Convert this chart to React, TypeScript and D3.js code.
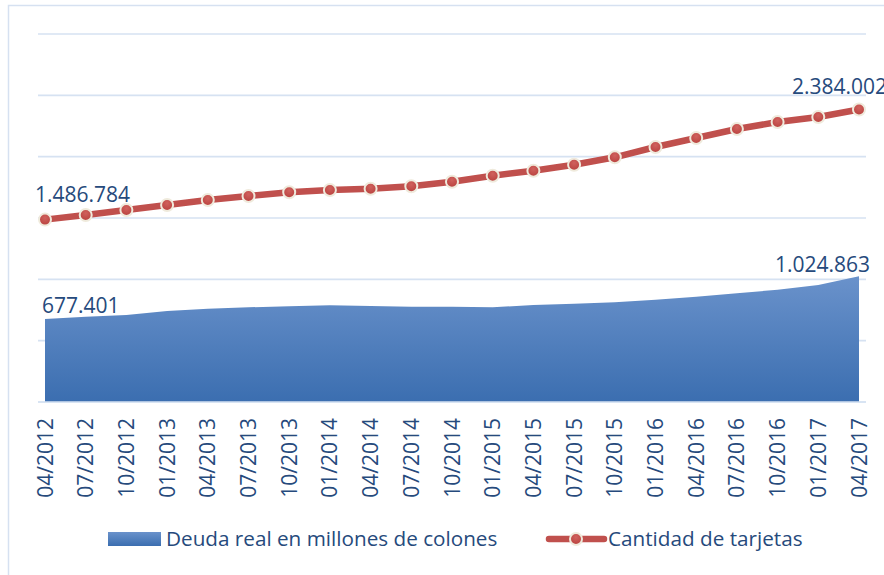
import React from "react";
import * as d3 from "d3";

// fechas del eje x
const periods = [
  "04/2012", "07/2012", "10/2012", "01/2013", "04/2013", "07/2013", "10/2013",
  "01/2014", "04/2014", "07/2014", "10/2014", "01/2015", "04/2015", "07/2015",
  "10/2015", "01/2016", "04/2016", "07/2016", "10/2016", "01/2017", "04/2017",
];

// deuda real en millones de colones (area)
const deuda = [
  677401, 695400, 709200, 741800, 760600, 772000, 780100, 788300, 782600,
  776900, 776900, 772000, 790700, 801300, 812700, 834000, 858400, 886100,
  915500, 953800, 1024863,
];

// cantidad de tarjetas (linea)
const tarjetas = [
  1486784, 1524400, 1565200, 1606000, 1646700, 1679300, 1709500, 1728200,
  1738800, 1758400, 1795900, 1844800, 1885600, 1934500, 1994800, 2078800,
  2152100, 2225500, 2282600, 2323300, 2384002,
];

const gridTicks = [0, 500000, 1000000, 1500000, 2000000, 2500000, 3000000];

const fmt = (v: number) => d3.format(",")(v).replace(/,/g, ".");

const W = 884;
const H = 575;
const FONT = "'Open Sans', sans-serif";
const TEXT = "#264a7c";
const RED = "#c0504d";

export default function App() {
  const x = d3.scalePoint<string>().domain(periods).range([45, 859]);
  const y = d3.scaleLinear().domain([0, 3000000]).range([402, 34]);

  const area = d3
    .area<number>()
    .x((_, i) => x(periods[i])!)
    .y0(y(0))
    .y1((d) => y(d));

  const line = d3
    .line<number>()
    .x((_, i) => x(periods[i])!)
    .y((d) => y(d));

  const first = 0;
  const last = periods.length - 1;

  return (
    <svg
      width={W}
      height={H}
      style={{ position: "absolute", left: 0, top: 0, background: "#fff" }}
      fontFamily={FONT}
    >
      <defs>
        <linearGradient id="areaGrad" x1="0" y1="0" x2="0" y2="1">
          <stop offset="0%" stopColor="#6a92cb" />
          <stop offset="100%" stopColor="#3b6eb0" />
        </linearGradient>
        <radialGradient id="dotGrad" cx="50%" cy="35%" r="65%">
          <stop offset="0%" stopColor="#d0615d" />
          <stop offset="100%" stopColor="#b8413e" />
        </radialGradient>
      </defs>

      <rect x={8.5} y={5.5} width={900} height={600} fill="none" stroke="#d6e1f1" strokeWidth={1.5} />

      {gridTicks.map((t) => (
        <line key={t} x1={38} x2={866} y1={y(t)} y2={y(t)} stroke="#d6e2f2" strokeWidth={1.6} />
      ))}

      <path d={area(deuda)!} fill="url(#areaGrad)" />
      <line x1={38} x2={866} y1={y(0)} y2={y(0)} stroke="#d6e2f2" strokeWidth={1.6} />

      <path d={line(tarjetas)!} fill="none" stroke={RED} strokeWidth={6.5} strokeLinejoin="round" />
      {tarjetas.map((v, i) => (
        <circle key={i} cx={x(periods[i])} cy={y(v)} r={6} fill="url(#dotGrad)" stroke="#efeadc" strokeWidth={2} />
      ))}

      <g fontSize={21} fill={TEXT}>
        <text x={x(periods[first])! - 10} y={y(tarjetas[first]) - 18}>{fmt(tarjetas[first])}</text>
        <text x={x(periods[last])! - 67} y={y(tarjetas[last]) - 16}>{fmt(tarjetas[last])}</text>
        <text x={x(periods[first])! - 3} y={y(deuda[first]) - 6}>{fmt(deuda[first])}</text>
        <text x={x(periods[last])! - 84} y={y(deuda[last]) - 4}>{fmt(deuda[last])}</text>
      </g>

      <g fontSize={21} fill={TEXT}>
        {periods.map((p) => (
          <text
            key={p}
            transform={`translate(${x(p)! + 7.5},418) rotate(-90)`}
            textAnchor="end"
          >
            {p}
          </text>
        ))}
      </g>

      <g fontSize={20.7} fill={TEXT}>
        <rect x={108} y={532} width={53} height={14} fill="url(#areaGrad)" />
        <text x={166} y={546}>Deuda real en millones de colones</text>
        <line x1={549} x2={604} y1={539} y2={539} stroke={RED} strokeWidth={6.5} strokeLinecap="round" />
        <circle cx={576} cy={539} r={6} fill="url(#dotGrad)" stroke="#efeadc" strokeWidth={2} />
        <text x={608} y={546}>Cantidad de tarjetas</text>
      </g>
    </svg>
  );
}
